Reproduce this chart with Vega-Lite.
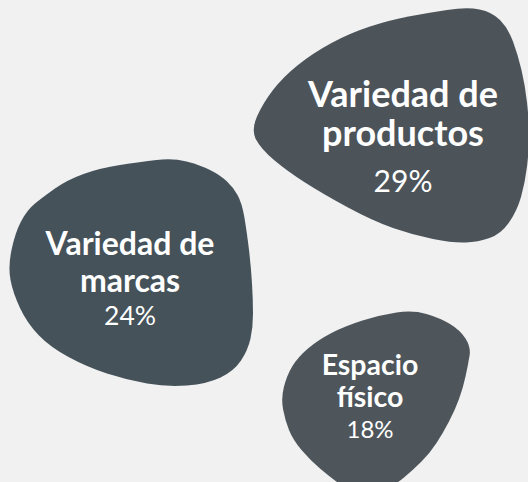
{
  "$schema": "https://vega.github.io/schema/vega-lite/v6.json",
  "width": 528,
  "height": 482,
  "padding": 0,
  "autosize": {"type": "none"},
  "background": "#f1f1f1",
  "config": {"view": {"stroke": null}},
  "data": {
    "values": [
      {"id": "productos", "name": "Variedad de\nproductos", "share": 0.29, "x": 403, "y": 140},
      {"id": "marcas", "name": "Variedad de\nmarcas", "share": 0.24, "x": 130, "y": 280},
      {"id": "espacio", "name": "Espacio\nfísico", "share": 0.18, "x": 370, "y": 400}
    ]
  },
  "encoding": {
    "x": {"field": "x", "type": "quantitative", "scale": {"domain": [0, 528], "nice": false, "zero": false}, "axis": null},
    "y": {"field": "y", "type": "quantitative", "scale": {"domain": [0, 482], "nice": false, "zero": false, "reverse": true}, "axis": null}
  },
  "layer": [
    {
      "mark": {"type": "point", "filled": true, "size": 4, "opacity": 1, "strokeWidth": 0},
      "encoding": {
        "shape": {
          "field": "id", "type": "nominal", "legend": null,
          "scale": {
            "domain": ["productos", "marcas", "espacio"],
            "range": [
              "M-147 -0.5 Q-152 -10 -146 -23.5 Q-140 -37 -130 -50 Q-120 -63 -105 -75 Q-90 -87 -71.5 -97 Q-53 -107 -33 -113.5 Q-13 -120 5.5 -123.5 Q24 -127 44 -130 Q64 -133 76.5 -130.5 Q89 -128 97 -120 Q105 -112 110 -98.5 Q115 -85 118.5 -70 Q122 -55 124 -37.5 Q126 -20 126 -5 Q126 10 124 26.5 Q122 43 118 57 Q114 71 106 82.5 Q98 94 86.5 98 Q75 102 62.5 102.5 Q50 103 30 99 Q10 95 -10 88 Q-30 81 -55 67.5 Q-80 54 -98 42.5 Q-116 31 -129 20 Q-142 9 -147 -0.5 Z",
              "M-119.5 0 Q-122 -13 -118.5 -30 Q-115 -47 -109 -58.5 Q-103 -70 -95 -76.5 Q-87 -83 -75 -91.5 Q-63 -100 -46.5 -106 Q-30 -112 -10 -115 Q10 -118 26.5 -120 Q43 -122 56.5 -118.5 Q70 -115 80 -110 Q90 -105 96.5 -99 Q103 -93 107.5 -85 Q112 -77 114.5 -62 Q117 -47 119 -30 Q121 -13 122 3.5 Q123 20 123 33.5 Q123 47 120.5 58.5 Q118 70 111 80.5 Q104 91 90.5 97.5 Q77 104 57 105.5 Q37 107 17 103.5 Q-3 100 -23 93.5 Q-43 87 -61.5 77 Q-80 67 -91.5 55 Q-103 43 -110 28 Q-117 13 -119.5 0 Z",
              "M-87 9 Q-89 -2 -86 -13.5 Q-83 -25 -77.5 -34 Q-72 -43 -62 -51.5 Q-52 -60 -38.5 -67 Q-25 -74 -7.5 -79.5 Q10 -85 26.5 -87.5 Q43 -90 56.5 -86 Q70 -82 80 -76 Q90 -70 95.5 -61.5 Q101 -53 99.5 -44 Q98 -35 95.5 -23.5 Q93 -12 89 -1 Q85 10 79 21.5 Q73 33 66.5 43 Q60 53 51.5 61.5 Q43 70 34 77.5 Q25 85 13.5 90.5 Q2 96 -10 93 Q-22 90 -31 83.5 Q-40 77 -50 68.5 Q-60 60 -68.5 50 Q-77 40 -81 30 Q-85 20 -87 9 Z"
            ]
          }
        },
        "color": {
          "field": "id", "type": "nominal", "legend": null,
          "scale": {"domain": ["productos", "marcas", "espacio"], "range": ["#4c545a", "#45525a", "#4e565b"]}
        }
      }
    },
    {
      "transform": [{"filter": "datum.id == 'productos'"}],
      "mark": {"type": "text", "font": "Lato", "fontWeight": "bold", "fontSize": 36, "lineHeight": 39, "dy": -33, "align": "center", "baseline": "alphabetic", "color": "#ffffff", "lineBreak": "\n"},
      "encoding": {"text": {"field": "name", "type": "nominal"}}
    },
    {
      "transform": [{"filter": "datum.id == 'productos'"}],
      "mark": {"type": "text", "font": "Lato", "fontWeight": "normal", "fontSize": 30, "dy": 52, "align": "center", "baseline": "alphabetic", "color": "#ffffff"},
      "encoding": {"text": {"field": "share", "type": "quantitative", "format": ".0%"}}
    },
    {
      "transform": [{"filter": "datum.id == 'marcas'"}],
      "mark": {"type": "text", "font": "Lato", "fontWeight": "bold", "fontSize": 32, "lineHeight": 37, "dy": -25, "align": "center", "baseline": "alphabetic", "color": "#ffffff", "lineBreak": "\n"},
      "encoding": {"text": {"field": "name", "type": "nominal"}}
    },
    {
      "transform": [{"filter": "datum.id == 'marcas'"}],
      "mark": {"type": "text", "font": "Lato", "fontWeight": "normal", "fontSize": 26.5, "dy": 45, "align": "center", "baseline": "alphabetic", "color": "#ffffff"},
      "encoding": {"text": {"field": "share", "type": "quantitative", "format": ".0%"}}
    },
    {
      "transform": [{"filter": "datum.id == 'espacio'"}],
      "mark": {"type": "text", "font": "Lato", "fontWeight": "bold", "fontSize": 28.5, "lineHeight": 32, "dy": -25, "align": "center", "baseline": "alphabetic", "color": "#ffffff", "lineBreak": "\n"},
      "encoding": {"text": {"field": "name", "type": "nominal"}}
    },
    {
      "transform": [{"filter": "datum.id == 'espacio'"}],
      "mark": {"type": "text", "font": "Lato", "fontWeight": "normal", "fontSize": 24, "dy": 38, "align": "center", "baseline": "alphabetic", "color": "#ffffff"},
      "encoding": {"text": {"field": "share", "type": "quantitative", "format": ".0%"}}
    }
  ]
}
